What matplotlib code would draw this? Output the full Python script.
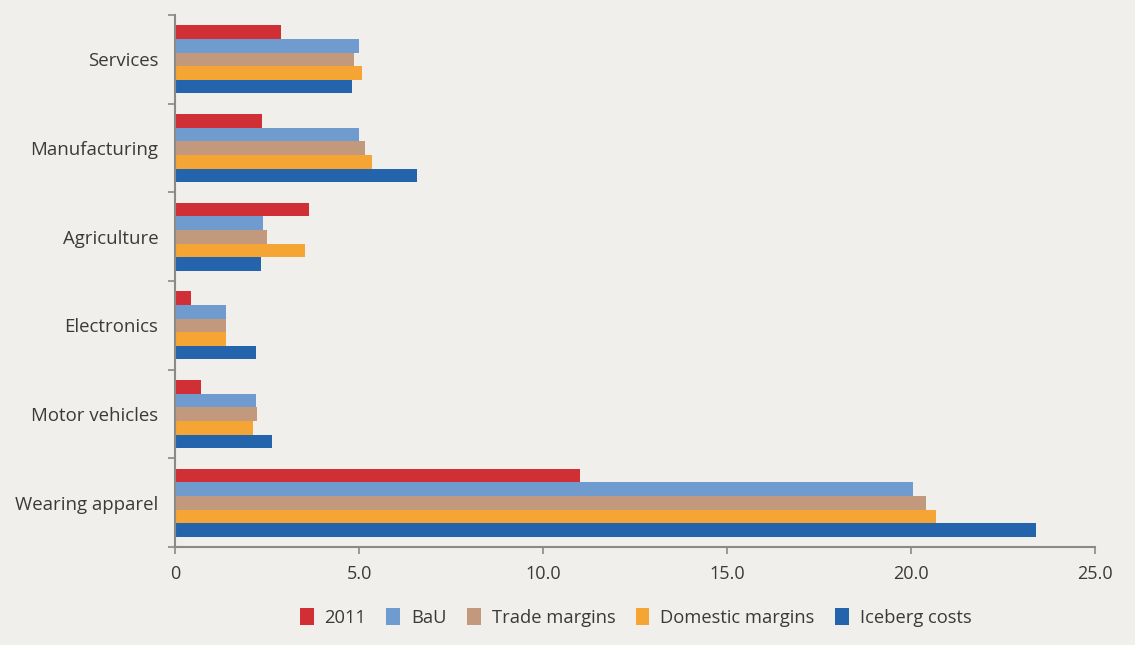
import numpy as np
import matplotlib
matplotlib.use("Agg")
import matplotlib.pyplot as plt
from matplotlib.patches import Patch

# Sector categories (top to bottom)
categories = ["Services", "Manufacturing", "Agriculture", "Electronics",
              "Motor vehicles", "Wearing apparel"]

series_names = ["2011", "BaU", "Trade margins", "Domestic margins", "Iceberg costs"]
series_colors = ["#d12f36", "#709bcf", "#c2997d", "#f4a534", "#2464ad"]

v_2011     = [2.88, 2.36, 3.65, 0.43, 0.71, 11.0]
v_bau      = [5.00, 5.00, 2.40, 1.38, 2.19, 20.05]
v_trade    = [4.87, 5.15, 2.50, 1.38, 2.24, 20.40]
v_domestic = [5.07, 5.34, 3.52, 1.38, 2.13, 20.68]
v_iceberg  = [4.80, 6.57, 2.34, 2.19, 2.63, 23.40]

series_values = [v_2011, v_bau, v_trade, v_domestic, v_iceberg]

x_ticks = [0, 5, 10, 15, 20, 25]
x_tick_labels = ["0", "5.0", "10.0", "15.0", "20.0", "25.0"]

bg = "#f1efec"
text_color = "#3a3a3a"
axis_color = "#8a8a88"

plt.rcParams["font.family"] = ["Open Sans", "DejaVu Sans"]

fig = plt.figure(figsize=(11.35, 6.45), dpi=100, facecolor=bg)
ax = fig.add_axes([0.1542, 0.1519, 0.8106, 0.8248], facecolor=bg)

n_cat = len(categories)
n_ser = len(series_names)
bar_h = 0.154
centers = np.arange(n_cat)

for i, (name, vals, col) in enumerate(zip(series_names, series_values, series_colors)):
    offset = (i - (n_ser - 1) / 2) * bar_h
    ax.barh(centers + offset, vals, height=bar_h, color=col, label=name,
            edgecolor="none")

ax.set_ylim(n_cat - 0.5, -0.5)
ax.set_xlim(0, 25)

ax.set_yticks(centers)
ax.set_yticklabels(categories, fontsize=13.4, color=text_color)
ax.tick_params(axis="y", which="major", length=0, pad=12)
ax.set_yticks(np.arange(-0.5, n_cat, 1.0), minor=True)
ax.tick_params(axis="y", which="minor", length=5, width=1.2, color=axis_color,
               direction="out")

ax.set_xticks(x_ticks)
ax.set_xticklabels(x_tick_labels, fontsize=13, color=text_color)
ax.tick_params(axis="x", length=5, width=1.2, color=axis_color, pad=8)

for side in ("top", "right"):
    ax.spines[side].set_visible(False)
for side in ("left", "bottom"):
    ax.spines[side].set_color(axis_color)
    ax.spines[side].set_linewidth(1.5)

handles = [Patch(facecolor=c, edgecolor="none") for c in series_colors]
fig.legend(handles, series_names, loc="center", bbox_to_anchor=(0.56, 0.043),
           ncol=n_ser, frameon=False, fontsize=13.2, handlelength=0.75,
           handleheight=1.1, handletextpad=0.6, columnspacing=1.1,
           labelcolor=text_color)

fig.savefig("out.png", dpi=100, facecolor=bg)
